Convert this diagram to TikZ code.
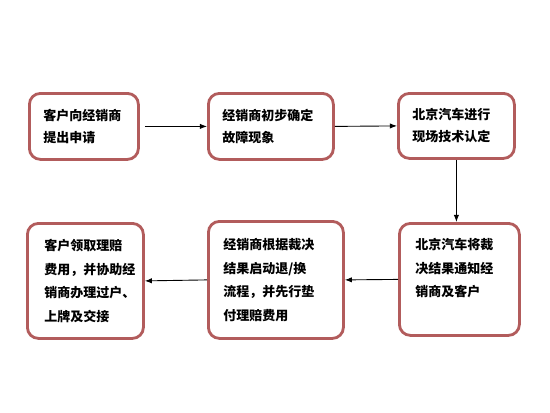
\documentclass[tikz,border=0pt]{standalone}
\usepackage{fontspec}
\newfontfamily\cjk{Noto Sans CJK SC}
\usepackage{xcolor}
\definecolor{boxred}{HTML}{B25C5C}
\usepackage{tikz}
\usetikzlibrary{arrows.meta,positioning}

\begin{document}
\begin{tikzpicture}[>=Latex,x=1pt,y=-1pt]
\tikzset{
 n/.style={draw=boxred,line width=2.8pt,rounded corners=11pt,fill=white,anchor=north west,
   inner xsep=14pt,inner ysep=0pt,align=left,font=\cjk\bfseries\fontsize{13}{22}\selectfont},
 nb/.style={n,font=\cjk\bfseries\fontsize{13}{23.5}\selectfont},
 a/.style={->,line width=0.9pt}
}
\useasboundingbox (0,0) rectangle (550,413);
\node[n,text width=81pt,minimum height=66pt] (s1) at (28,92) {客户向经销商\\提出申请};
\node[n,text width=97pt,minimum height=66pt] (s2) at (207,92) {经销商初步确定\\故障现象};
\node[n,text width=88pt,minimum height=65pt] (s3) at (397,92) {北京汽车进行\\现场技术认定};
\node[nb,text width=88pt,minimum height=112pt,inner xsep=16pt] (s6) at (398,222) {北京汽车将裁\\决结果通知经\\销商及客户\\\mbox{}};
\node[nb,text width=105pt,minimum height=117pt,inner xsep=15pt] (s5) at (207,220) {经销商根据裁决\\结果启动退/换\\流程，并先行垫\\付理赔费用};
\node[nb,text width=82pt,minimum height=115pt,inner xsep=17pt] (s4) at (26,222) {客户领取理赔\\费用，并协助经\\销商办理过户、\\上牌及交接};
\draw[a] (s1.east)++(5,0) -- (s2.west);
\draw[a] (s2.east) -- (s3.west);
\draw[a] (s3.south) -- (s3.south |- s6.north);
\draw[a] (s6.west) -- (s5.east);
\draw[a] (s5.west) -- (s4.east);
\end{tikzpicture}
\end{document}
